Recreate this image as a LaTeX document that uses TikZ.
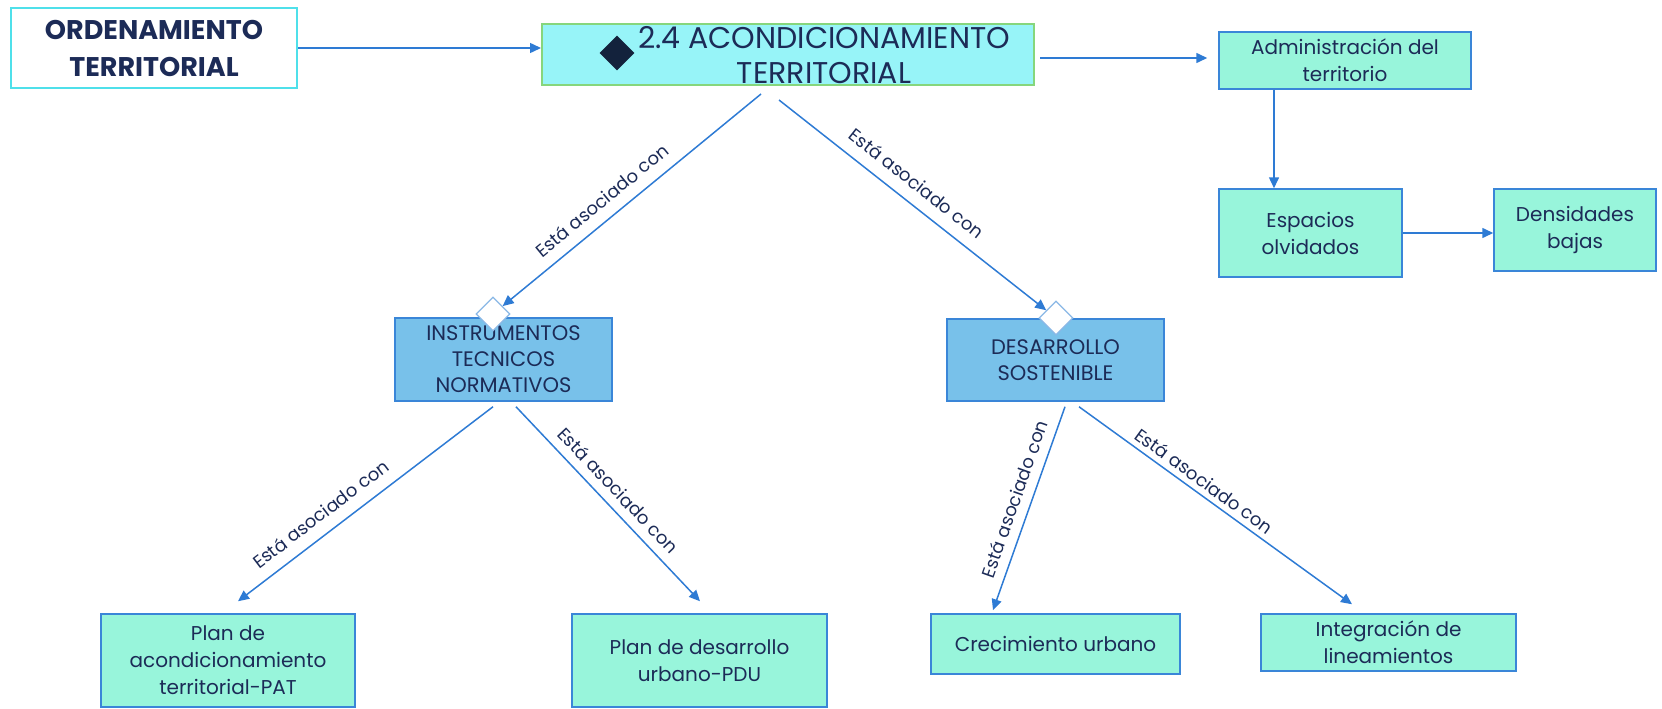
\documentclass[tikz,border=0pt]{standalone}
\usepackage{fontspec}
\setmainfont{Poppins}
\usetikzlibrary{shapes.geometric,arrows.meta}
\definecolor{navy}{HTML}{1C2B57}
\definecolor{arrowblue}{HTML}{2E7BD4}
\definecolor{mint}{HTML}{98F5DB}
\definecolor{mintedge}{HTML}{3A86D8}
\definecolor{skyfill}{HTML}{78C1EA}
\definecolor{cyanfill}{HTML}{97F4F8}
\definecolor{greenedge}{HTML}{86D67C}
\definecolor{cyanedge}{HTML}{4FE0EA}
\definecolor{diamedge}{HTML}{8AB8E6}
\definecolor{darkdiam}{HTML}{13223C}
\begin{document}
\begin{tikzpicture}[x=1pt,y=-1pt,
  box/.style={draw=mintedge,line width=1.5pt,fill=mint,text=navy,align=center,inner sep=0pt,font=\fontsize{20}{27}\selectfont},
  bluebox/.style={box,fill=skyfill,font=\fontsize{21}{26}\selectfont},
  link/.style={draw=arrowblue,line width=1.5pt,-{Triangle[length=11pt,width=10pt]}},
  rel/.style={text=navy,font=\fontsize{18}{20}\selectfont,sloped,inner sep=0pt},
  hollow/.style={diamond,draw=diamedge,fill=white,line width=1.2pt,minimum size=34pt,inner sep=0pt}]
  \useasboundingbox (0,0) rectangle (1662,709);
  \node[draw=cyanedge,line width=2pt,minimum width=286pt,minimum height=80pt,text=navy,align=center,
    font=\bfseries\fontsize{27}{37}\selectfont] (ordT) at (154,48) {ORDENAMIENTO\\TERRITORIAL};
  \node[draw=greenedge,fill=cyanfill,line width=2pt,minimum width=492pt,minimum height=61pt] (acond) at (788,54.5) {};
  \node[diamond,fill=darkdiam,minimum size=35pt,inner sep=0pt] (blackD) at (617,53) {};
  \node[text=navy,align=center,inner sep=0pt,font=\fontsize{30}{35}\selectfont] (acondTxt) at (824,55) {2.4 ACONDICIONAMIENTO\\TERRITORIAL};
  \node[box,minimum width=252pt,minimum height=57pt] (admin) at (1345,60.5) {Administración del\\territorio};
  \node[box,minimum width=183pt,minimum height=88pt] (espacios) at (1310.5,233) {Espacios\\olvidados};
  \node[box,minimum width=162pt,minimum height=82pt] (densid) at (1575,230) {Densidades\\bajas};
  \node[bluebox,minimum width=217pt,minimum height=83pt] (instr) at (503.5,359.5) {INSTRUMENTOS\\TECNICOS\\NORMATIVOS};
  \node[bluebox,minimum width=217pt,minimum height=82pt] (desarr) at (1055.5,360) {DESARROLLO\\SOSTENIBLE};
  \node[hollow] (dInstr) at (493,314) {};
  \node[hollow] (dDes) at (1056,318) {};
  \node[box,minimum width=254pt,minimum height=93pt] (planPAT) at (228,660.5) {Plan de\\acondicionamiento\\territorial-PAT};
  \node[box,minimum width=255pt,minimum height=93pt] (planPDU) at (699.5,660.5) {Plan de desarrollo\\urbano-PDU};
  \node[box,minimum width=249pt,minimum height=60pt] (crec) at (1055.5,644) {Crecimiento urbano};
  \node[box,minimum width=255pt,minimum height=57pt] (integ) at (1388.5,642.5) {Integración de\\lineamientos};
  \coordinate (adminOut) at ([xshift=-71pt]admin.south);
  \draw[link] (ordT.east) -- (ordT.east -| acond.west);
  \draw[link] ([shift={(5,3.5)}]acond.east) -- ([shift={(-11,-2.5)}]admin.west);
  \draw[link] (adminOut) -- (adminOut |- espacios.north);
  \draw[link] (espacios.east) -- (espacios.east -| densid.west);
  \draw[link] ([shift={(-27,8)}]acond.south) -- (dInstr) node[rel,pos=0.57,above=11pt] {Está asociado con};
  \draw[link] ([shift={(-9,14)}]acond.south) -- (dDes) node[rel,pos=0.47,above=12pt] {Está asociado con};
  \draw[link] ([shift={(-10.5,5)}]instr.south) -- ([shift={(10,-12)}]planPAT.north) node[rel,pos=0.63,above=11.5pt] {Está asociado con};
  \draw[link] ([shift={(12.5,5)}]instr.south) -- ([shift={(0.5,-12)}]planPDU.north) node[rel,pos=0.49,above=9pt] {Está asociado con};
  \draw[link] ([shift={(9.5,5)}]desarr.south) -- ([shift={(-62.5,-3)}]crec.north) node[rel,pos=0.48,above=9pt] {Está asociado con};
  \draw[link] ([shift={(23.5,5)}]desarr.south) -- ([shift={(-36.5,-9)}]integ.north) node[rel,pos=0.43,above=5.5pt] {Está asociado con};
\end{tikzpicture}
\end{document}
